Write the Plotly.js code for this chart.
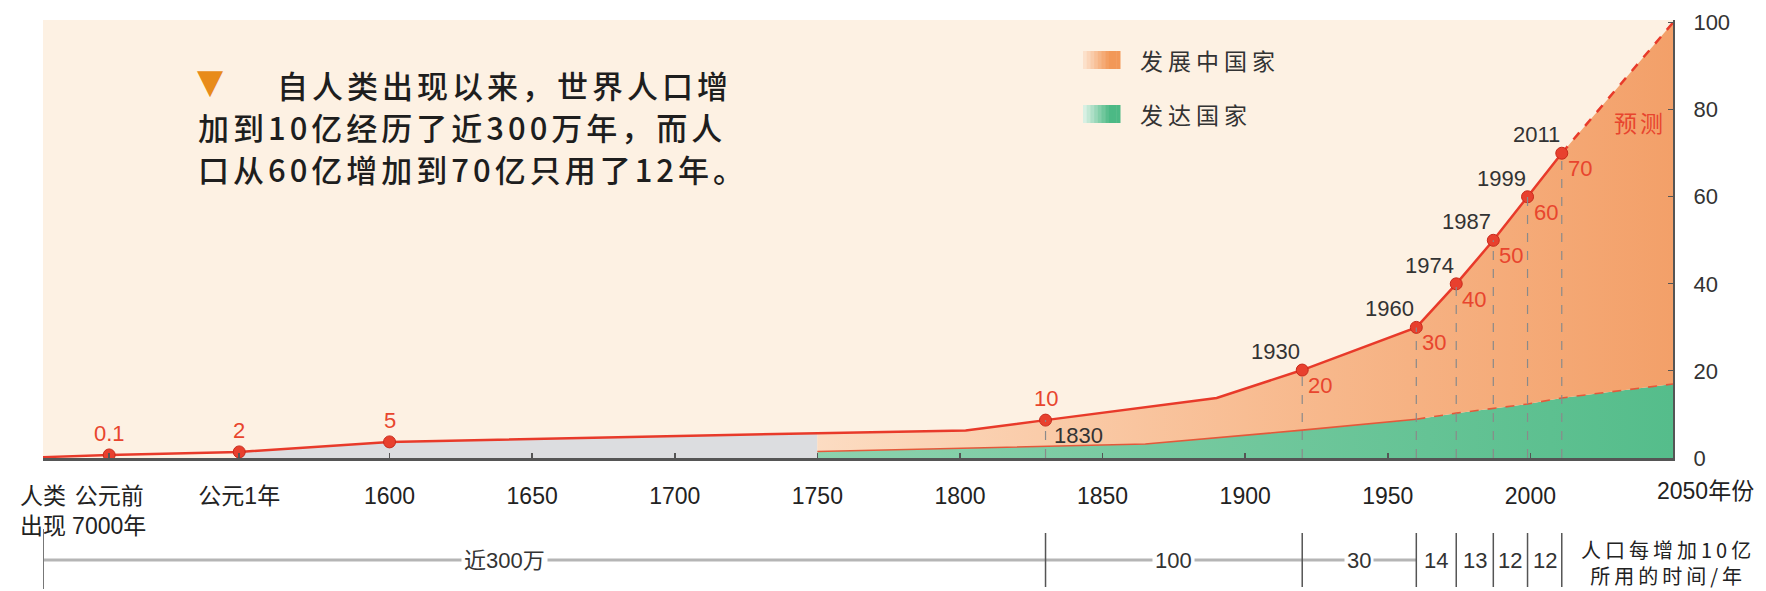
<!DOCTYPE html>
<html>
<head>
<meta charset="utf-8">
<script src="https://cdn.plot.ly/plotly-3.0.1.min.js"></script>
<style>
html, body { margin: 0; padding: 0; background: #ffffff; }
#chart { width: 1766px; height: 591px; }
</style>
</head>
<body>
<div id="chart"></div>
<script>
// ---------------- data ----------------
// Early eras sit on a compressed stretch of the time axis (axis units).
const eraLabels = ['人类<br>出现', '公元前<br>7000年', '公元1年'];
const eraAxisPos = [1478.5, 1501.7, 1547.3];
const yearTicks = [1600, 1650, 1700, 1750, 1800, 1850, 1900, 1950, 2000];

// World population line (y axis: 亿人)
const totalX = [1478.5, 1501.7, 1547.3, 1600, 1750, 1802, 1830, 1890, 1920, 1960, 1974, 1987, 1999, 2011];
const totalY = [0.2, 0.7, 1.4, 3.7, 5.7, 6.3, 8.7, 13.8, 20.2, 30, 40, 50, 60, 70];
// Forecast segment
const forecastX = [2011, 2050];
const forecastY = [70, 100];

// Developed countries (green band)
const devX = [1750, 1800, 1830, 1865, 1920, 1960, 1974, 1999, 2011, 2050];
const devY = [1.5, 2.3, 2.8, 3.2, 6.4, 8.9, 10.3, 12.4, 13.8, 17.0];

// Milestones (index into totalX/totalY) with their labels
const markIdx = [1, 2, 3, 6, 8, 9, 10, 11, 12, 13];
const markPop = ['0.1', '2', '5', '10', '20', '30', '40', '50', '60', '70'];
const markYear = ['', '', '', '1830', '1930', '1960', '1974', '1987', '1999', '2011'];

// Years needed for each additional 1 billion (bottom scale)
const bracketEdges = [1478.5, 1830, 1920, 1960, 1974, 1987, 1999, 2011];
const bracketLabels = ['近300万', '100', '30', '14', '13', '12', '12'];

// ---------------- helpers ----------------
const L = 43, R = 1673, T = 20, B = 458;
const px = x => (x - L) / (R - L);
const py = y => (B - y) / (B - T);
function hex2rgb(h) { h = h.replace('#', ''); return [0, 2, 4].map(i => parseInt(h.substr(i, 2), 16)); }
function mix(a, b, t) {
  const A = hex2rgb(a), Bc = hex2rgb(b);
  return 'rgb(' + A.map((v, i) => Math.round(v + (Bc[i] - v) * t)).join(',') + ')';
}

const CJK = 'Noto Sans CJK SC, sans-serif';
const NUM = 'Liberation Sans, Arial, Noto Sans CJK SC, sans-serif';
const RED = '#e83a2a';
const LABEL_RED = '#e8452e';
const DARK = '#333333';

// ---------------- traces ----------------
const mX = markIdx.map(i => totalX[i]);
const mY = markIdx.map(i => totalY[i]);

// gray band before industrial era (from 公元1年 to 1750)
const gIdx = totalX.map((x, i) => i).filter(i => totalX[i] >= eraAxisPos[2] && totalX[i] <= 1750);
const grayTrace = {
  x: gIdx.map(i => totalX[i]), y: gIdx.map(i => totalY[i]),
  type: 'scatter', mode: 'lines', fill: 'tozeroy', fillcolor: '#dcdde0',
  line: { width: 0 }, hoverinfo: 'skip', showlegend: false
};

const greenTrace = {
  x: devX, y: devY, type: 'scatter', mode: 'lines', fill: 'tozeroy',
  fillcolor: '#62c293',
  fillgradient: { type: 'horizontal', colorscale: [[0, '#8dd2ae'], [1, '#55bd8b']] },
  line: { width: 0 }, hoverinfo: 'skip', showlegend: false
};

const oIdx = totalX.map((x, i) => i).filter(i => totalX[i] >= 1750);
const orangeTrace = {
  x: oIdx.map(i => totalX[i]).concat([forecastX[1]]),
  y: oIdx.map(i => totalY[i]).concat([forecastY[1]]),
  type: 'scatter', mode: 'lines', fill: 'tonexty',
  fillcolor: '#f6b080',
  fillgradient: { type: 'horizontal', colorscale: [[0, '#fcdcc2'], [0.5, '#f8bd93'], [1, '#f3a069']] },
  line: { width: 0 }, hoverinfo: 'skip', showlegend: false
};

const devSolidIdx = devX.map((x, i) => i).filter(i => devX[i] <= 1960);
const devDashIdx = devX.map((x, i) => i).filter(i => devX[i] >= 1960);
const devLineSolid = {
  x: devSolidIdx.map(i => devX[i]), y: devSolidIdx.map(i => devY[i]),
  type: 'scatter', mode: 'lines', line: { color: '#e4583a', width: 1.6 }, hoverinfo: 'skip', showlegend: false
};
const devLineDash = {
  x: devDashIdx.map(i => devX[i]), y: devDashIdx.map(i => devY[i]),
  type: 'scatter', mode: 'lines', line: { color: '#e4583a', width: 1.6, dash: 'dash' }, hoverinfo: 'skip', showlegend: false
};

const totalLine = {
  x: totalX, y: totalY, type: 'scatter', mode: 'lines',
  line: { color: RED, width: 2.5 }, hoverinfo: 'skip', showlegend: false
};
const forecastLine = {
  x: forecastX, y: forecastY, type: 'scatter', mode: 'lines',
  line: { color: RED, width: 2.5, dash: 'dash' }, hoverinfo: 'skip', showlegend: false
};
const markers = {
  x: mX, y: mY, type: 'scatter', mode: 'markers',
  marker: { size: 12, color: '#e8402e', line: { color: '#c82a1c', width: 1 } },
  hoverinfo: 'skip', showlegend: false
};

// ---------------- annotations ----------------
const anns = [];
const spacing = [];
function add(a, ls) { anns.push(Object.assign({ showarrow: false }, a)); if (ls) spacing.push([anns.length - 1, ls]); }

// Intro text
const introLines = ['自人类出现以来，世界人口增', '加到10亿经历了近300万年，而人', '口从60亿增加到70亿只用了12年。'];
const introX = [275, 196, 196];
const introY = [84, 126, 169];
introLines.forEach((t, i) => add({
  xref: 'paper', yref: 'paper', x: px(introX[i]), y: py(introY[i]), xanchor: 'left', yanchor: 'middle', align: 'left',
  text: t, font: { family: CJK, size: 31, color: '#1e1e1e', weight: 500 }
}, 4));
add({ xref: 'paper', yref: 'paper', x: px(210), y: py(81), xanchor: 'center', yanchor: 'middle',
  text: '▼', font: { family: 'DejaVu Sans', size: 34, color: '#e88b1a' } });

// Legend labels
const legendNames = ['发展中国家', '发达国家'];
const legendY = [60, 114];
legendNames.forEach((t, i) => add({
  xref: 'paper', yref: 'paper', x: px(1138), y: py(legendY[i]), xanchor: 'left', yanchor: 'middle', align: 'left',
  text: t, font: { family: CJK, size: 23, color: DARK }
}, 5));

// Forecast label
add({ xref: 'paper', yref: 'paper', x: px(1640), y: py(122), xanchor: 'center', yanchor: 'middle',
  text: '预测', font: { family: CJK, size: 23, color: LABEL_RED } }, 3);

// Milestone labels
mX.forEach((x, k) => {
  const y = mY[k];
  if (k < 4) {
    add({ xref: 'x', yref: 'y', x: x, y: y, xanchor: 'center', yanchor: 'bottom', yshift: 7,
      text: markPop[k], font: { family: NUM, size: 22, color: LABEL_RED } });
  } else {
    add({ xref: 'x', yref: 'y', x: x, y: y, xanchor: 'left', yanchor: 'top', xshift: 4, yshift: -1,
      text: markPop[k], font: { family: NUM, size: 22, color: LABEL_RED } });
  }
  if (markYear[k]) {
    if (k === 3) {
      add({ xref: 'x', yref: 'y', x: x, y: y, xanchor: 'left', yanchor: 'top', xshift: 6, yshift: -1,
        text: markYear[k], font: { family: NUM, size: 22, color: DARK } });
    } else {
      add({ xref: 'x', yref: 'y', x: x, y: y, xanchor: 'right', yanchor: 'bottom', xshift: 0, yshift: 4,
        text: markYear[k], font: { family: NUM, size: 22, color: DARK } });
    }
  }
});

// 2050年份 end label
add({ xref: 'x', yref: 'paper', x: 2050, y: py(491), xanchor: 'left', yanchor: 'middle', xshift: -18,
  text: '2050年份', font: { family: NUM, size: 23, color: '#222' } });

// Bottom scale labels
const brY = 560;
bracketLabels.forEach((t, i) => {
  const mid = (bracketEdges[i] + bracketEdges[i + 1]) / 2;
  add({ xref: 'x', yref: 'paper', x: mid, y: py(brY), xanchor: 'center', yanchor: 'middle',
    xshift: i === 0 ? -40 : 0,
    bgcolor: i < 3 ? '#ffffff' : 'rgba(0,0,0,0)', borderpad: 2,
    text: t, font: { family: NUM, size: 22, color: DARK } });
});
add({ xref: 'paper', yref: 'paper', x: px(1668), y: py(562), xanchor: 'center', yanchor: 'middle', align: 'center',
  text: '人口每增加10亿<br>所用的时间/年', font: { family: CJK, size: 20, color: '#222' } }, 4);

// ---------------- shapes ----------------
const shapes = [];
// dashed drop lines from milestones
mX.forEach((x, k) => {
  if (!markYear[k]) return;
  shapes.push({ type: 'line', xref: 'x', yref: 'y', x0: x, x1: x, y0: 0, y1: mY[k],
    line: { color: '#8a8a8a', width: 1.2, dash: 'dash' }, layer: 'above' });
});
// legend swatches with gradient
const swatchFrom = ['#fde6d4', '#e3f4ea'];
const swatchTo = ['#f29858', '#4cb985'];
const swatchY = [[51, 69], [105, 123]];
for (let s = 0; s < 2; s++) {
  const n = 10, x0 = 1083, x1 = 1120, w = (x1 - x0) / n;
  for (let i = 0; i < n; i++) {
    shapes.push({ type: 'rect', xref: 'paper', yref: 'paper',
      x0: px(x0 + i * w), x1: px(x0 + (i + 1) * w + 0.5), y0: py(swatchY[s][1]), y1: py(swatchY[s][0]),
      fillcolor: mix(swatchFrom[s], swatchTo[s], Math.min(1, (i + 0.5) / n * 1.4)), line: { width: 0 } });
  }
}
// bottom scale line and separators
shapes.push({ type: 'line', xref: 'x', yref: 'paper', x0: bracketEdges[0], x1: bracketEdges[3],
  y0: py(brY), y1: py(brY), line: { color: '#b5b5b5', width: 3 }, layer: 'below' });
bracketEdges.forEach((x, i) => {
  shapes.push({ type: 'line', xref: 'x', yref: 'paper', x0: x, x1: x,
    y0: py(i === 0 ? 529 : 533), y1: py(i === 0 ? 589 : 587),
    line: { color: i === 0 ? '#777777' : '#555555', width: i === 0 ? 2 : 1.5 } });
});

// ---------------- layout ----------------
const layout = {
  width: 1766, height: 591,
  margin: { l: L, r: 1766 - R, t: T, b: 591 - B, pad: 0 },
  paper_bgcolor: '#ffffff', plot_bgcolor: '#fdf1e3',
  showlegend: false,
  xaxis: {
    range: [eraAxisPos[0], 2050], showgrid: false, zeroline: false,
    showline: true, linecolor: '#555555', linewidth: 3,
    ticks: 'inside', ticklen: 5, tickcolor: '#555555', tickwidth: 1.5,
    tickvals: eraAxisPos.concat(yearTicks),
    ticktext: eraLabels.concat(yearTicks.map(String)),
    tickfont: { family: NUM, size: 23, color: '#222' },
    ticklabelstandoff: 15
  },
  yaxis: {
    range: [0, 100.6], side: 'right', showgrid: false, zeroline: false,
    showline: true, linecolor: '#555555', linewidth: 2,
    ticks: 'inside', ticklen: 5, tickcolor: '#555555',
    tickvals: [0, 20, 40, 60, 80, 100],
    tickfont: { family: NUM, size: 22, color: DARK },
    ticklabelstandoff: 14
  },
  annotations: anns,
  shapes: shapes
};

// letter spacing for CJK text blocks
const st = document.createElement('style');
st.textContent = spacing.map(([i, s]) => 'g.annotation[data-index="' + i + '"] text{letter-spacing:' + s + 'px;}').join('\n');
document.head.appendChild(st);

Plotly.newPlot('chart',
  [grayTrace, greenTrace, orangeTrace, devLineSolid, devLineDash, totalLine, forecastLine, markers],
  layout, { displayModeBar: false, staticPlot: true });
</script>
</body>
</html>
